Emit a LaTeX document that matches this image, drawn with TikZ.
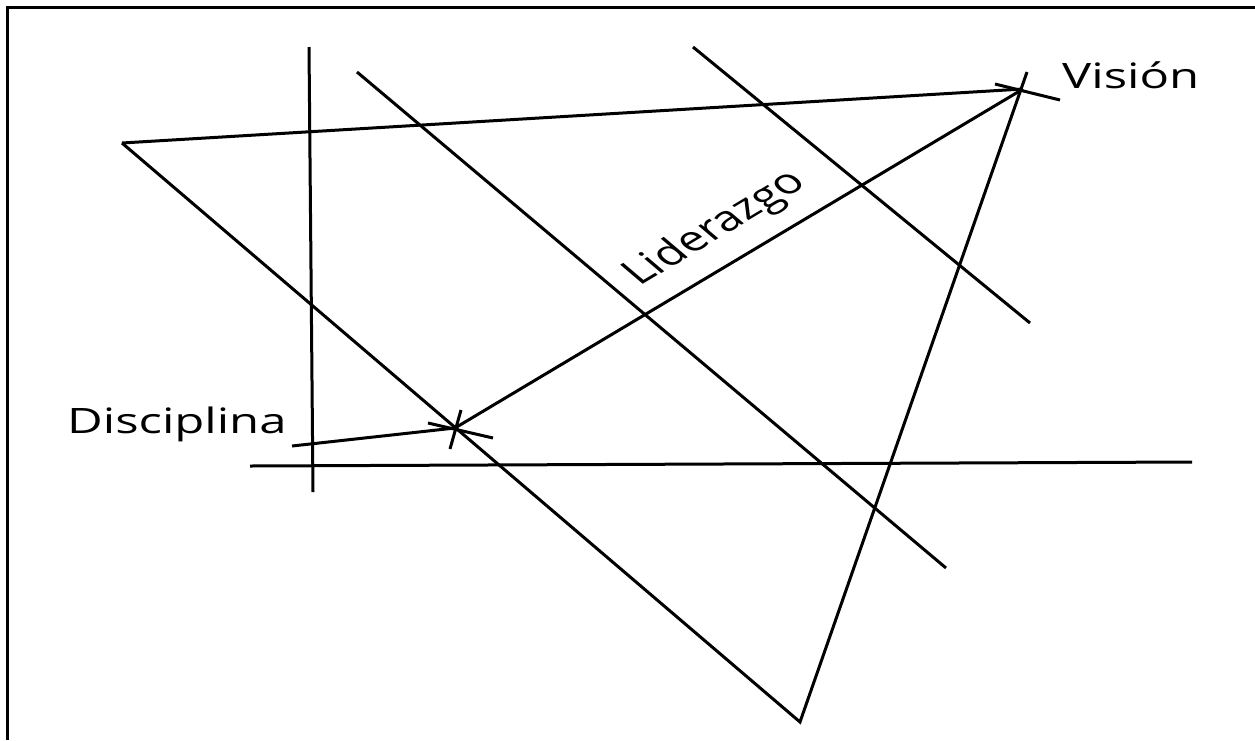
\documentclass[tikz,border=0pt]{standalone}
\usepackage{fontspec}
\setmainfont{Open Sans}
\begin{document}
\begin{tikzpicture}[x=1pt,y=-1pt,
  ln/.style={line width=3pt, black},
  frm/.style={line width=3pt, black},
  lbl/.style={inner sep=0pt, font=\fontsize{35}{40}\selectfont}]
\useasboundingbox (0,0) rectangle (1255,740);
% frame
\coordinate (fTR) at (1255,7);
\coordinate (fTL) at (7,7);
\coordinate (fBL) at (7,740);
\draw[frm] (fTR) -- (fTL) -- (fBL);
% main points
\coordinate (A) at (122,143);
\coordinate (V) at (1023,89);
\coordinate (Vtop) at (1027,72);
\coordinate (B) at (800,722);
\coordinate (D) at (455,428);
% construction lines
\coordinate (v1) at (309,47);  \coordinate (v2) at (313,492);
\coordinate (d1) at (357,72);  \coordinate (d2) at (946,568);
\coordinate (e1) at (693,47);  \coordinate (e2) at (1030,323);
\coordinate (h1) at (250,466); \coordinate (h2) at (1192,462);
\coordinate (p1) at (292,446);
% ticks
\coordinate (t1a) at (461,410); \coordinate (t1b) at (450,449);
\coordinate (t2a) at (428,423); \coordinate (t2b) at (493,438);
\coordinate (t3a) at (995,84);  \coordinate (t3b) at (1060,100);
\draw[ln] (A) -- (V);
\draw[ln] (A) -- (B) -- (Vtop);
\draw[ln] (D) -- (V);
\draw[ln] (p1) -- (D);
\draw[ln] (v1) -- (v2);
\draw[ln] (d1) -- (d2);
\draw[ln] (e1) -- (e2);
\draw[ln] (h1) -- (h2);
\draw[ln] (t1a) -- (t1b);
\draw[ln] (t2a) -- (t2b);
\draw[ln] (t3a) -- (t3b);
% labels
\node[lbl, anchor=base west] (vis) at (1062,88) {\scalebox{1.4}[1]{Visión}};
\node[lbl, anchor=base west] (dis) at (67,433) {\scalebox{1.4}[1]{Disciplina}};
\begin{scope}[shift={(724,236)}, xscale=1.4]
\node[lbl, anchor=base, rotate=40.1, transform shape] (lid) at (0,0) {Liderazgo};
\end{scope}
\end{tikzpicture}
\end{document}
